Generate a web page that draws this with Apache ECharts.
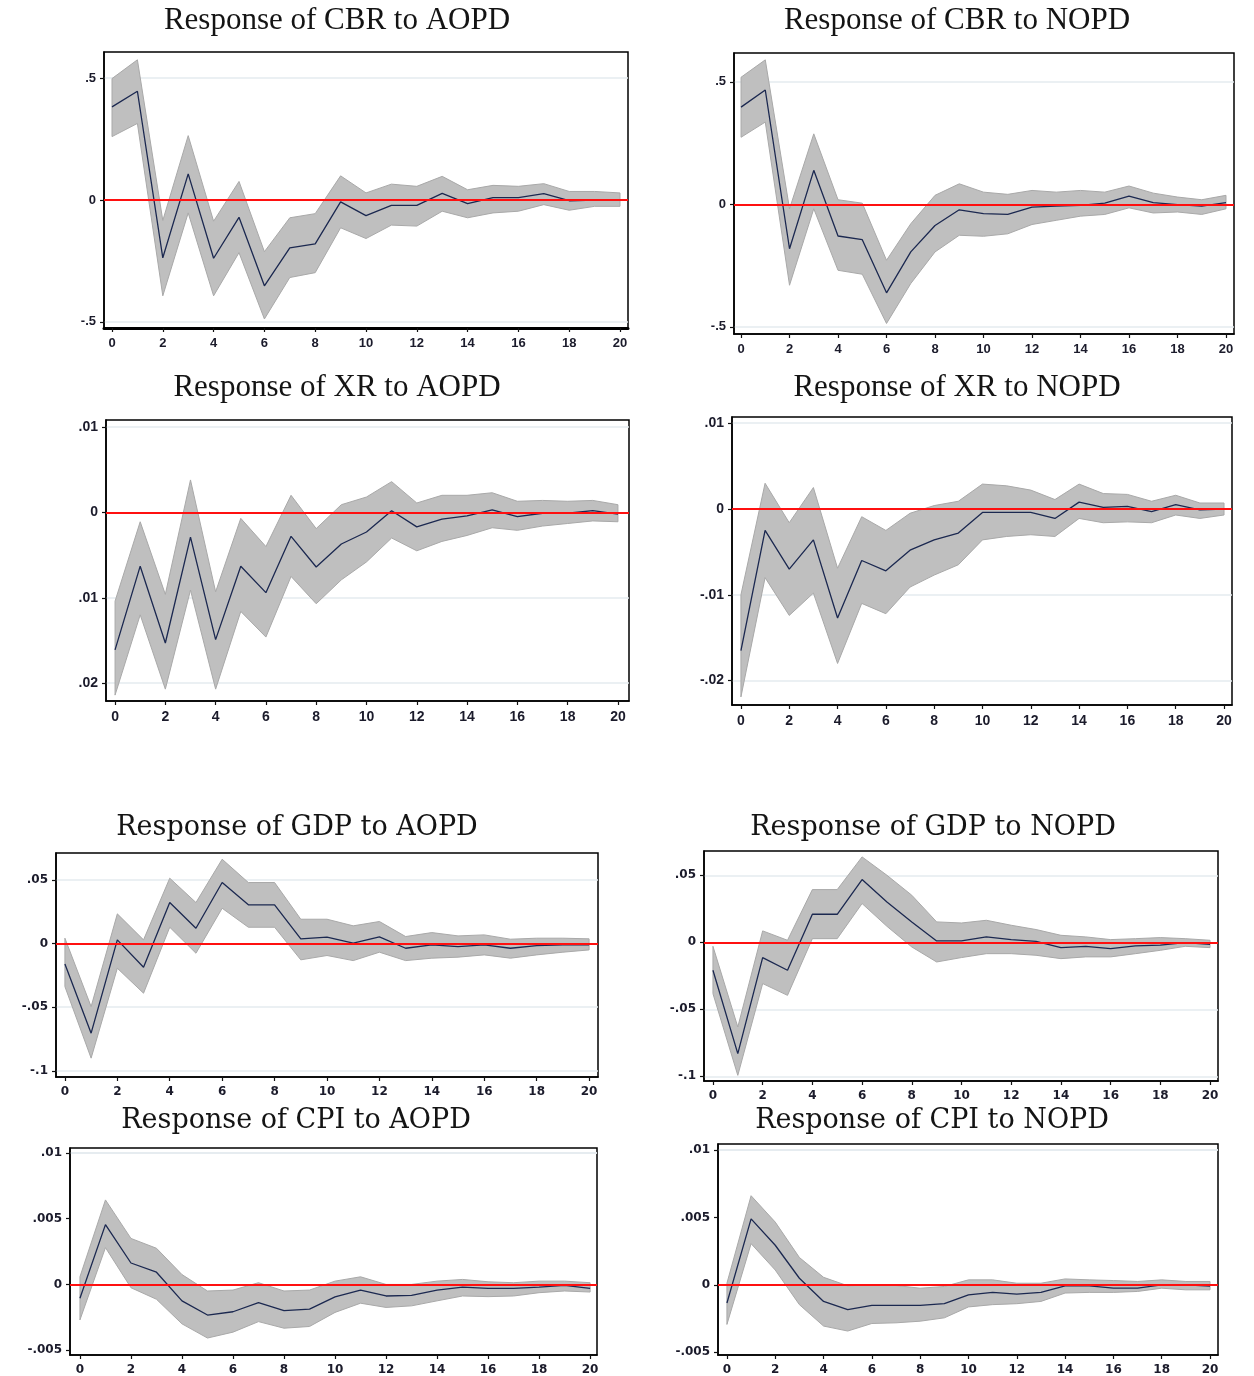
<!DOCTYPE html>
<html><head><meta charset="utf-8">
<script src="https://cdn.jsdelivr.net/npm/echarts@6/dist/echarts.min.js"></script>
<style>html,body{margin:0;padding:0;background:#fff}#c{width:1254px;height:1376px}</style>
</head><body><div id="c"></div>
<script>
// ---------------- DATA ----------------
const horizons = [0,1,2,3,4,5,6,7,8,9,10,11,12,13,14,15,16,17,18,19,20];
const xTickValues = [0,2,4,6,8,10,12,14,16,18,20];
const xTickLabels = ['0','2','4','6','8','10','12','14','16','18','20'];

const titles = [
  'Response of CBR to AOPD','Response of CBR to NOPD',
  'Response of XR to AOPD','Response of XR to NOPD',
  'Response of GDP to AOPD','Response of GDP to NOPD',
  'Response of CPI to AOPD','Response of CPI to NOPD'
];

const cbrAopdIrf = [0.382,0.446,-0.237,0.107,-0.239,-0.071,-0.352,-0.196,-0.18,-0.008,-0.064,-0.022,-0.022,0.027,-0.015,0.01,0.01,0.026,-0.003,0,0];
const cbrAopdHi  = [0.498,0.575,-0.084,0.264,-0.087,0.076,-0.212,-0.073,-0.056,0.099,0.029,0.065,0.056,0.097,0.042,0.06,0.056,0.067,0.035,0.035,0.029];
const cbrAopdLo  = [0.26,0.314,-0.393,-0.053,-0.393,-0.216,-0.488,-0.318,-0.298,-0.114,-0.158,-0.103,-0.107,-0.046,-0.073,-0.053,-0.046,-0.019,-0.042,-0.026,-0.026];

const cbrNopdIrf = [0.397,0.467,-0.181,0.139,-0.129,-0.144,-0.361,-0.194,-0.086,-0.022,-0.038,-0.041,-0.011,-0.007,-0.004,0.005,0.034,0.007,-0.001,-0.007,0.007];
const cbrNopdHi  = [0.519,0.59,-0.018,0.288,0.019,0.005,-0.228,-0.079,0.037,0.084,0.05,0.041,0.057,0.05,0.057,0.05,0.075,0.046,0.03,0.019,0.037];
const cbrNopdLo  = [0.274,0.336,-0.33,-0.018,-0.269,-0.285,-0.486,-0.323,-0.194,-0.126,-0.13,-0.12,-0.082,-0.065,-0.048,-0.041,-0.014,-0.035,-0.031,-0.041,-0.018];

const xrAopdIrf = [-0.0161,-0.0063,-0.0153,-0.0029,-0.0149,-0.0063,-0.0094,-0.0028,-0.0064,-0.0037,-0.0023,0.0002,-0.0017,-0.0008,-0.0004,0.0003,-0.0005,-0.0001,-0.0001,0.0002,-0.0002];
const xrAopdHi  = [-0.0104,-0.0011,-0.0096,0.0038,-0.0093,-0.0007,-0.004,0.002,-0.0019,0.0009,0.0018,0.0036,0.0011,0.002,0.002,0.0023,0.0013,0.0014,0.0013,0.0014,0.0009];
const xrAopdLo  = [-0.0214,-0.012,-0.0207,-0.0091,-0.0207,-0.0116,-0.0146,-0.0075,-0.0107,-0.0079,-0.0058,-0.003,-0.0045,-0.0034,-0.0027,-0.0018,-0.0021,-0.0016,-0.0013,-0.001,-0.0011];

const xrNopdIrf = [-0.0165,-0.0025,-0.007,-0.0036,-0.0127,-0.006,-0.0072,-0.0048,-0.0036,-0.0028,-0.0004,-0.0004,-0.0004,-0.0011,0.0008,0.0002,0.0003,-0.0003,0.0005,-0.0001,0];
const xrNopdHi  = [-0.01,0.003,-0.0016,0.0025,-0.0069,-0.0009,-0.0025,-0.0005,0.0004,0.0009,0.0029,0.0027,0.0022,0.0011,0.0029,0.0018,0.0017,0.0009,0.0016,0.0007,0.0007];
const xrNopdLo  = [-0.0219,-0.008,-0.0124,-0.0098,-0.018,-0.011,-0.0122,-0.0091,-0.0077,-0.0065,-0.0036,-0.0032,-0.003,-0.0032,-0.0011,-0.0016,-0.0015,-0.0016,-0.0007,-0.0011,-0.0007];

const gdpAopdIrf = [-0.016,-0.0704,0.0029,-0.0186,0.0322,0.012,0.0479,0.0304,0.0304,0.0037,0.005,0.0003,0.0052,-0.0037,-0.001,-0.0024,-0.001,-0.0037,-0.0016,-0.001,-0.001];
const gdpAopdHi  = [0.0042,-0.0495,0.0233,0.0029,0.0513,0.0322,0.0662,0.0479,0.0479,0.0191,0.0191,0.0139,0.0173,0.0055,0.0086,0.006,0.0068,0.0034,0.0042,0.0042,0.0037];
const gdpAopdLo  = [-0.0338,-0.09,-0.0194,-0.039,0.0128,-0.0076,0.0277,0.0128,0.0128,-0.0128,-0.0094,-0.0134,-0.0068,-0.0134,-0.0115,-0.0107,-0.0089,-0.0115,-0.0089,-0.0068,-0.005];

const gdpNopdIrf = [-0.0209,-0.0831,-0.0114,-0.0209,0.0209,0.0209,0.0468,0.0301,0.0152,0.001,0.001,0.004,0.002,0.0007,-0.004,-0.003,-0.0047,-0.0027,-0.0022,-0.0002,-0.0015];
const gdpNopdHi  = [-0.003,-0.0632,0.0085,0.0015,0.0393,0.0393,0.0637,0.05,0.0351,0.0152,0.0144,0.0164,0.0127,0.0095,0.0052,0.004,0.002,0.0027,0.0035,0.0027,0.0015];
const gdpNopdLo  = [-0.0383,-0.0993,-0.0308,-0.0396,0.0027,0.0027,0.0289,0.0119,-0.0035,-0.0147,-0.0114,-0.0085,-0.0085,-0.0097,-0.0122,-0.0109,-0.0109,-0.0085,-0.006,-0.003,-0.004];

const cpiAopdIrf = [-0.00105,0.00455,0.00163,0.00093,-0.00125,-0.00233,-0.00208,-0.00138,-0.002,-0.00188,-0.00095,-0.00043,-0.00088,-0.00083,-0.00043,-0.0002,-0.0003,-0.0003,-0.0002,-0.00008,-0.0003];
const cpiAopdHi  = [0.00058,0.00643,0.0035,0.00275,0.00075,-0.0005,-0.00043,0.00013,-0.0005,-0.00043,0.00025,0.00058,0,0,0.00025,0.00038,0.0002,0.00013,0.00025,0.00025,0.00013];
const cpiAopdLo  = [-0.0027,0.0028,-0.00025,-0.00113,-0.003,-0.00408,-0.00363,-0.00283,-0.00333,-0.0032,-0.00213,-0.00143,-0.00175,-0.00163,-0.00125,-0.00088,-0.00093,-0.00088,-0.00063,-0.0005,-0.00058];

const cpiNopdIrf = [-0.00135,0.0049,0.00294,0.00049,-0.00123,-0.00184,-0.00152,-0.00152,-0.00152,-0.0014,-0.00074,-0.00056,-0.00069,-0.00056,-0.00007,-0.00007,-0.00025,-0.00025,0,0,-0.0001];
const cpiNopdHi  = [0.00012,0.00662,0.00466,0.00203,0.00056,-0.00007,0,-0.00005,-0.00025,-0.00012,0.00037,0.00037,0.00012,0.00012,0.00044,0.00037,0.00032,0.00025,0.00037,0.00025,0.00025];
const cpiNopdLo  = [-0.00294,0.00306,0.0011,-0.00147,-0.00306,-0.00343,-0.00287,-0.00282,-0.0027,-0.00245,-0.00164,-0.00147,-0.0014,-0.00123,-0.00061,-0.00056,-0.00056,-0.00049,-0.00025,-0.00037,-0.00037];

const cbrYTicks = [-0.5,0,0.5];             const cbrYLabels = ['-.5','0','.5'];
const xrAopdYTicks = [-0.02,-0.01,0,0.01];  const xrAopdYLabels = ['.02','.01','0','.01'];
const xrNopdYTicks = [-0.02,-0.01,0,0.01];  const xrNopdYLabels = ['-.02','-.01','0','.01'];
const gdpYTicks = [-0.1,-0.05,0,0.05];      const gdpYLabels = ['-.1','-.05','0','.05'];
const cpiYTicks = [-0.005,0,0.005,0.01];    const cpiYLabels = ['-.005','0','.005','.01'];

const panelIrf = [cbrAopdIrf,cbrNopdIrf,xrAopdIrf,xrNopdIrf,gdpAopdIrf,gdpNopdIrf,cpiAopdIrf,cpiNopdIrf];
const panelHi  = [cbrAopdHi,cbrNopdHi,xrAopdHi,xrNopdHi,gdpAopdHi,gdpNopdHi,cpiAopdHi,cpiNopdHi];
const panelLo  = [cbrAopdLo,cbrNopdLo,xrAopdLo,xrNopdLo,gdpAopdLo,gdpNopdLo,cpiAopdLo,cpiNopdLo];
const panelYTicks  = [cbrYTicks,cbrYTicks,xrAopdYTicks,xrNopdYTicks,gdpYTicks,gdpYTicks,cpiYTicks,cpiYTicks];
const panelYLabels = [cbrYLabels,cbrYLabels,xrAopdYLabels,xrNopdYLabels,gdpYLabels,gdpYLabels,cpiYLabels,cpiYLabels];

// ---------------- LAYOUT (positions / axis extents / fonts) ----------------
const layouts = [
  {grid:{left:104,top:52,width:524,height:276}, x:[-0.315,20.315], y:[-0.525,0.607], tx:337, ty:5,  tf:'Liberation Serif', ts:31, lf:'Liberation Sans', ls:13, xw:3},
  {grid:{left:734,top:53,width:500,height:281}, x:[-0.29,20.33],  y:[-0.529,0.618], tx:957, ty:5,  tf:'Liberation Serif', ts:31, lf:'Liberation Sans', ls:13, xw:1.6},
  {grid:{left:106,top:420,width:523,height:281}, x:[-0.36,20.44], y:[-0.02209,0.01082], tx:337, ty:372, tf:'Liberation Serif', ts:31, lf:'Liberation Sans', ls:14, xw:1.6},
  {grid:{left:732,top:417,width:500,height:288}, x:[-0.37,20.33], y:[-0.02284,0.01072], tx:957, ty:372, tf:'Liberation Serif', ts:31, lf:'Liberation Sans', ls:14, xw:1.6},
  {grid:{left:56,top:853,width:542,height:224},  x:[-0.34,20.34], y:[-0.1048,0.0711], tx:297, ty:814, tf:'DejaVu Serif', ts:27, lf:'DejaVu Sans', ls:12, xw:1.6},
  {grid:{left:704,top:851,width:514,height:230}, x:[-0.36,20.32], y:[-0.1035,0.0681], tx:933, ty:814, tf:'DejaVu Serif', ts:27, lf:'DejaVu Sans', ls:12, xw:1.6},
  {grid:{left:70,top:1148,width:527,height:210}, x:[-0.39,20.27], y:[-0.00537,0.01038], tx:296, ty:1107, tf:'DejaVu Serif', ts:27, lf:'DejaVu Sans', ls:12, xw:1.6},
  {grid:{left:718,top:1144,width:500,height:214}, x:[-0.37,20.33], y:[-0.00521,0.01046], tx:932, ty:1107, tf:'DejaVu Serif', ts:27, lf:'DejaVu Sans', ls:12, xw:1.6}
];

// ---------------- BUILD ----------------
const grids = [], xAxes = [], yAxes = [], series = [], graphics = [];
function labelFor(ticks, labels, v) {
  for (let k = 0; k < ticks.length; k++) if (Math.abs(ticks[k] - v) < 1e-9) return labels[k];
  return '';
}
function bandRenderer(params, api) {
  if (params.dataIndexInside !== 0) return null;
  const n = params.dataInsideLength;
  const upper = [], lower = [];
  for (let k = 0; k < n; k++) {
    upper.push(api.coord([api.value(0, k), api.value(2, k)]));
    lower.push(api.coord([api.value(0, k), api.value(1, k)]));
  }
  const pts = upper.concat(lower.reverse());
  return {type:'polygon', shape:{points:pts},
    style:{fill:'#bfbfbf', stroke:'#a9a9a9', lineWidth:1}};
}
layouts.forEach((L, i) => {
  grids.push(Object.assign({show:true, borderColor:'#000', borderWidth:1.5, backgroundColor:'#fff'}, L.grid));
  const labelStyle = {fontFamily:L.lf, fontSize:L.ls, fontWeight:'bold', color:'#1b1b2b'};
  xAxes.push({type:'value', gridIndex:i, min:L.x[0], max:L.x[1],
    axisLine:{show:true, onZero:false, lineStyle:{color:'#000', width:L.xw}},
    axisTick:{show:true, customValues:xTickValues, length:4, lineStyle:{color:'#111', width:1.2}},
    axisLabel:Object.assign({customValues:xTickValues, margin:9,
      formatter:v => labelFor(xTickValues, xTickLabels, v)}, labelStyle),
    splitLine:{show:false}});
  const yt = panelYTicks[i], yl = panelYLabels[i];
  yAxes.push({type:'value', gridIndex:i, min:L.y[0], max:L.y[1],
    axisLine:{show:true, onZero:false, lineStyle:{color:'#000', width:1.5}},
    axisTick:{show:true, customValues:yt, length:4, lineStyle:{color:'#111', width:1.2}},
    axisLabel:Object.assign({customValues:yt, margin:8,
      formatter:v => labelFor(yt, yl, v)}, labelStyle),
    splitLine:{show:false}});
  const lo = panelLo[i], hi = panelHi[i], irf = panelIrf[i];
  series.push({type:'custom', xAxisIndex:i, yAxisIndex:i, z:1, silent:true, clip:true,
    renderItem: bandRenderer,
    encode:{x:0, y:[1,2]},
    data: horizons.map((h,k)=>[h, lo[k], hi[k]]),
    markLine:{silent:true, symbol:'none', z:0, label:{show:false},
      lineStyle:{color:'#e4ebef', width:1.5, type:'solid'},
      data: yt.filter(v => v !== 0).map(v => ({yAxis:v}))}});
  series.push({type:'line', xAxisIndex:i, yAxisIndex:i, z:3, silent:true, symbol:'none',
    data: horizons.map((h,k)=>[h, irf[k]]),
    lineStyle:{color:'#1b2850', width:1.3},
    markLine:{silent:true, symbol:'none', z:10, label:{show:false},
      lineStyle:{color:'#ff1010', width:1.8, type:'solid'},
      data:[{yAxis:0}]}});
  graphics.push({type:'text', x:L.tx, y:L.ty, silent:true,
    style:{text:titles[i], fill:'#141414', textAlign:'center', textVerticalAlign:'top',
      font:'normal ' + L.ts + 'px "' + L.tf + '"'}});
});

const chart = echarts.init(document.getElementById('c'), null, {renderer:'canvas'});
chart.setOption({
  backgroundColor:'#fff', animation:false,
  grid:grids, xAxis:xAxes, yAxis:yAxes, series:series, graphic:graphics
});
</script></body></html>
